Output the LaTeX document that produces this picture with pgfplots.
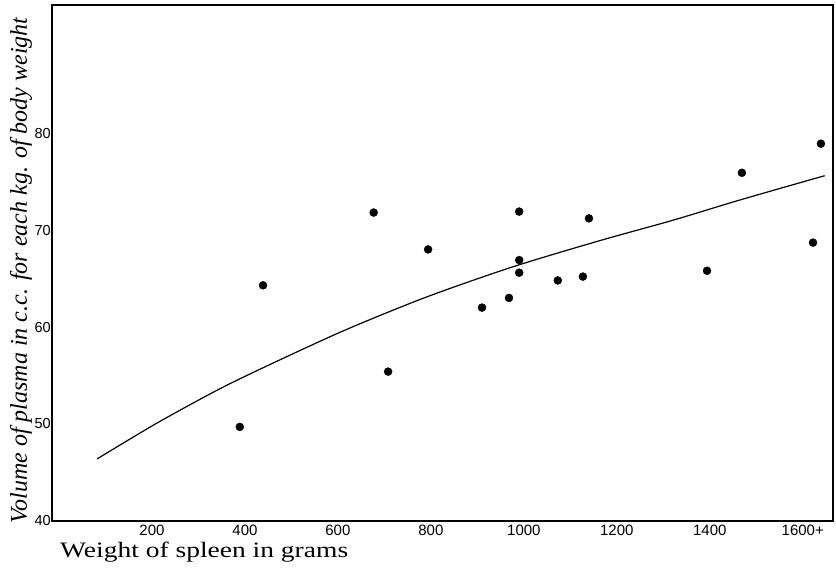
\documentclass[border=0pt]{standalone}
\usepackage{pgfplots}
\pgfplotsset{compat=1.18}
\usepackage{graphicx}
\usepackage{fontspec}
\setmainfont{Liberation Serif}
\newfontfamily\tickfont{Liberation Sans}
\begin{document}
\begin{tikzpicture}
\useasboundingbox (-52pt,-52pt) rectangle (784pt,521pt);
\begin{axis}[
  at={(0,0)}, anchor=south west,
  scale only axis, width=781pt, height=516pt,
  xmin=-15, xmax=1665, ymin=40, ymax=93.2,
  axis line style={line width=1.4pt},
  major tick length=0pt,
  xtick={200,400,600,800,1000,1200,1400,1600},
  xticklabels={200,400,600,800,1000,1200,1400,1600+},
  ytick={40,50,60,70,80},
  /pgf/number format/assume math mode=true,
  xticklabel style={font=\tickfont\fontsize{15}{15}\selectfont, inner sep=0pt, anchor=north, yshift=-4pt},
  yticklabel style={font=\tickfont\fontsize{14.5}{14.5}\selectfont, inner sep=1pt},
  xlabel={\scalebox{1.25}[1]{Weight of spleen in grams}},
  xlabel style={at={(axis description cs:0,0)}, anchor=base west, inner sep=0pt, xshift=8pt, yshift=-37pt, font=\fontsize{22}{22}\selectfont},
  ylabel={\textit{Volume of plasma in c.c. for each kg. of body weight}},
  ylabel style={at={(axis description cs:0,0.486)}, anchor=base, yshift=25pt, font=\fontsize{24}{24}\selectfont},
  clip=false,
]
\addplot[only marks, mark=*, mark size=4pt, black] coordinates {
 (389,49.7) (439,64.3) (677,71.8) (708,55.4) (794,68.0) (910,62.0)
 (968,63.0) (990,71.9) (990,66.9) (990,65.6) (1073,64.8) (1127,65.2)
 (1140,71.2) (1394,65.8) (1469,75.9) (1622,68.7) (1639,78.9)
};
\addplot[smooth, tension=0.5, black, line width=1.2pt] coordinates {
 (82,46.4) (211,50.1) (353,53.8) (497,57.1) (626,59.9) (791,63.1)
 (976,66.2) (1163,68.9) (1320,71.0) (1465,73.1) (1647,75.6)
};
\end{axis}
\end{tikzpicture}
\end{document}
